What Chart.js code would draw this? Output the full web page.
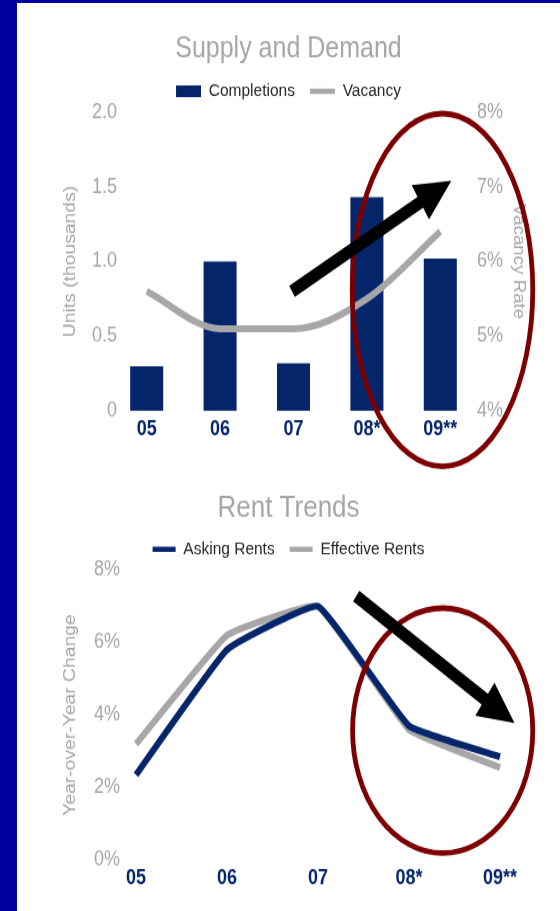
<!DOCTYPE html>
<html>
<head>
<meta charset="utf-8">
<script src="https://cdn.jsdelivr.net/npm/chart.js@4/dist/chart.umd.min.js"></script>
<style>
  html, body { margin: 0; padding: 0; }
  body { width: 560px; height: 911px; background: #00009e; position: relative; overflow: hidden; }
  #panel { position: absolute; left: 17px; top: 3px; right: 0; bottom: 0; background: #ffffff; }
  canvas { position: absolute; left: 0; transform-origin: 0 0; transform: scaleY(1.17); }
  #supply { top: 0; }
  #rent { top: 470px; }
</style>
</head>
<body>
<div id="panel"></div>
<canvas id="supply" width="560" height="402"></canvas>
<canvas id="rent" width="560" height="377"></canvas>
<script>
// Market data
const years = ['05', '06', '07', '08*', '09**'];
const completions = [0.30, 1.00, 0.32, 1.43, 1.02];      // thousands of units
const vacancy = [5.6, 5.1, 5.1, 5.5, 6.4];               // %
const unitTicks = ['0', '0.5', '1.0', '1.5', '2.0'];
const vacancyTicks = ['4%', '5%', '6%', '7%', '8%'];

const askingRents = [2.35, 5.8, 7.0, 3.7, 2.85];         // year-over-year %
const effectiveRents = [3.2, 6.2, 7.0, 3.6, 2.55];
const rentTicks = ['0%', '2%', '4%', '6%', '8%'];

const NAVY = '#05266b';
const GREY = '#a7a7a9';
const TEXT_GREY = '#a6a6a6';
const MAROON = '#7d0000';
const SANS = "'Liberation Sans', Arial, sans-serif";
const TICK_SIZE = 18;

// width of the widest label, so right-aligned labels can sit flush at a given x
function widestText(texts, px) {
  const c = document.createElement('canvas').getContext('2d');
  c.font = px + 'px ' + SANS;
  return Math.max(...texts.map(t => c.measureText(t).width));
}

// Callout ring + arrow, placed in data coordinates of the chart's own scales
function callouts(spec) {
  return {
    id: 'callouts',
    afterDraw(chart) {
      const { ctx } = chart;
      const xs = chart.scales.x;
      const ys = chart.scales[spec.yAxis];
      const catW = xs.getPixelForValue(1) - xs.getPixelForValue(0);
      const unitH = ys.getPixelForValue(0) - ys.getPixelForValue(1);
      ctx.save();
      const r = spec.ring;
      ctx.beginPath();
      ctx.ellipse(xs.getPixelForValue(r.x), ys.getPixelForValue(r.y), r.rx * catW, r.ry * unitH, 0, 0, Math.PI * 2);
      ctx.lineWidth = 4.8;
      ctx.strokeStyle = MAROON;
      ctx.stroke();
      const a = spec.arrow;
      const x0 = xs.getPixelForValue(a.from[0]), y0 = ys.getPixelForValue(a.from[1]);
      const x1 = xs.getPixelForValue(a.to[0]), y1 = ys.getPixelForValue(a.to[1]);
      const dx = x1 - x0, dy = y1 - y0, L = Math.hypot(dx, dy);
      const ux = dx / L, uy = dy / L, px = -uy, py = ux;
      const shaft = 11, headLen = 36, headHalf = 17;
      const bx = x1 - ux * headLen, by = y1 - uy * headLen;
      ctx.beginPath();
      ctx.moveTo(x0 + px * shaft / 2, y0 + py * shaft / 2);
      ctx.lineTo(bx + px * shaft / 2, by + py * shaft / 2);
      ctx.lineTo(bx + px * headHalf, by + py * headHalf);
      ctx.lineTo(x1, y1);
      ctx.lineTo(bx - px * headHalf, by - py * headHalf);
      ctx.lineTo(bx - px * shaft / 2, by - py * shaft / 2);
      ctx.lineTo(x0 - px * shaft / 2, y0 - py * shaft / 2);
      ctx.closePath();
      ctx.fillStyle = '#000000';
      ctx.fill();
      ctx.restore();
    }
  };
}

const legendLabels = (chart) =>
  Chart.defaults.plugins.legend.labels.generateLabels(chart).map(l => ({
    ...l,
    lineWidth: l.pointStyle === 'line' ? 4.5 : 0
  }));

const noGrid = { display: false, drawTicks: false };

// ---- Supply and Demand ----
new Chart(document.getElementById('supply'), {
  type: 'bar',
  data: {
    labels: years,
    datasets: [
      {
        type: 'bar', label: 'Completions', data: completions, yAxisID: 'y',
        backgroundColor: NAVY, borderWidth: 0, pointStyle: 'rect',
        barPercentage: 0.45, categoryPercentage: 1, order: 1
      },
      {
        type: 'line', label: 'Vacancy', data: vacancy, yAxisID: 'y1',
        borderColor: GREY, backgroundColor: GREY, borderWidth: 6,
        pointRadius: 0, pointStyle: 'line', cubicInterpolationMode: 'monotone', order: 0
      }
    ]
  },
  options: {
    responsive: false,
    animation: false,
    layout: { padding: { left: 17, right: 0, top: 0, bottom: 0 } },
    plugins: {
      title: {
        display: true, text: 'Supply and Demand', color: TEXT_GREY,
        font: { family: SANS, size: 25, weight: 'normal', lineHeight: 1 },
        padding: { top: 27.7, bottom: 0.65 }
      },
      legend: {
        display: true,
        labels: {
          usePointStyle: true, pointStyleWidth: 25, boxHeight: 10, padding: 15,
          color: '#262626', font: { family: SANS, size: 15.5 },
          sort: (a, b) => a.datasetIndex - b.datasetIndex,
          generateLabels: legendLabels
        }
      },
      tooltip: { enabled: false }
    },
    scales: {
      x: {
        type: 'category', offset: true,
        grid: noGrid, border: { display: false },
        ticks: { color: NAVY, padding: 5.4, maxRotation: 0, autoSkip: false,
                 font: { family: SANS, size: 18, weight: 'bold' } },
        afterFit: s => { s.height = 50.7; }
      },
      y: {
        position: 'left', min: 0, max: 2,
        grid: noGrid, border: { display: false },
        ticks: { stepSize: 0.5, mirror: true, crossAlign: 'far',
                 padding: 7 - widestText(unitTicks, TICK_SIZE), color: TEXT_GREY,
                 font: { family: SANS, size: TICK_SIZE }, callback: (v, i) => unitTicks[i] },
        title: { display: true, text: 'Units (thousands)', color: TEXT_GREY,
                 font: { family: SANS, size: 16.5 }, padding: { top: 43.1, bottom: 0 } },
        afterFit: s => { s.width = 93; s.paddingTop = 95.7; }
      },
      y1: {
        position: 'right', min: 4, max: 8,
        grid: noGrid, border: { display: false },
        ticks: { stepSize: 1, padding: 0, color: TEXT_GREY,
                 font: { family: SANS, size: TICK_SIZE }, callback: (v, i) => vacancyTicks[i] },
        title: { display: true, text: 'Vacancy Rate', color: TEXT_GREY,
                 font: { family: SANS, size: 16 }, padding: { top: 32.4, bottom: 0 } },
        afterFit: s => { s.width = 83; }
      }
    }
  },
  plugins: [callouts({
    yAxis: 'y',
    ring: { x: 4.03, y: 0.81, rx: 1.23, ry: 1.18 },
    arrow: { from: [1.98, 0.80], to: [4.15, 1.54] }
  })]
});

// ---- Rent Trends ----
new Chart(document.getElementById('rent'), {
  type: 'line',
  data: {
    labels: years,
    datasets: [
      {
        label: 'Asking Rents', data: askingRents,
        borderColor: NAVY, backgroundColor: NAVY, borderWidth: 6,
        pointRadius: 0, pointStyle: 'line', tension: 0.1
      },
      {
        label: 'Effective Rents', data: effectiveRents,
        borderColor: GREY, backgroundColor: GREY, borderWidth: 6,
        pointRadius: 0, pointStyle: 'line', tension: 0.1
      }
    ]
  },
  options: {
    responsive: false,
    animation: false,
    layout: { padding: { left: 17, right: 0, top: 0, bottom: 0 } },
    plugins: {
      title: {
        display: true, text: 'Rent Trends', color: TEXT_GREY,
        font: { family: SANS, size: 26, weight: 'normal', lineHeight: 0.9 },
        padding: { top: 13.5, bottom: 0.15 }
      },
      legend: {
        display: true,
        labels: {
          usePointStyle: true, pointStyleWidth: 23, boxHeight: 10, padding: 15,
          color: '#262626', font: { family: SANS, size: 15.5 },
          generateLabels: legendLabels
        }
      },
      tooltip: { enabled: false }
    },
    scales: {
      x: {
        type: 'category', offset: false,
        grid: noGrid, border: { display: false },
        ticks: { color: NAVY, padding: 4.6, maxRotation: 0, autoSkip: false,
                 font: { family: SANS, size: 18, weight: 'bold' } },
        afterFit: s => { s.height = 43.7; s.paddingRight = 60; }
      },
      y: {
        position: 'left', min: 0, max: 8,
        grid: noGrid, border: { display: false },
        ticks: { stepSize: 2, padding: 16, color: TEXT_GREY,
                 font: { family: SANS, size: TICK_SIZE }, callback: (v, i) => rentTicks[i] },
        title: { display: true, text: 'Year-over-Year Change', color: TEXT_GREY,
                 font: { family: SANS, size: 16.5 }, padding: { top: 43.1, bottom: 0 } },
        afterFit: s => { s.width = 119; s.paddingTop = 85.5; }
      }
    }
  },
  plugins: [callouts({
    yAxis: 'y',
    ring: { x: 3.37, y: 3.57, rx: 0.99, ry: 3.38 },
    arrow: { from: [2.42, 7.28], to: [4.16, 3.78] }
  })]
});
</script>
</body>
</html>
